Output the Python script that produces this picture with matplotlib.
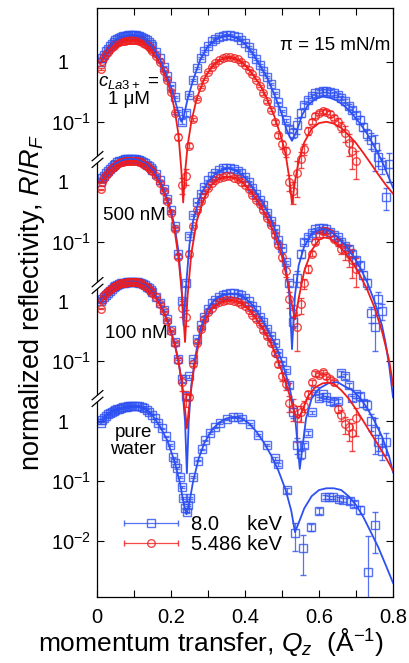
import numpy as np
import matplotlib
matplotlib.use("Agg")
import matplotlib.pyplot as plt
from matplotlib.path import Path
from matplotlib.legend_handler import HandlerErrorbar
from matplotlib.container import ErrorbarContainer
from matplotlib.ticker import FixedLocator, NullLocator

plt.rcParams['font.family'] = ['Liberation Sans', 'DejaVu Sans']
plt.rcParams['mathtext.fontset'] = 'custom'
plt.rcParams['mathtext.rm'] = 'Liberation Sans'
plt.rcParams['mathtext.it'] = 'Liberation Sans:italic'
plt.rcParams['mathtext.bf'] = 'Liberation Sans:bold'

#%% Datos: Q (1/A) y R/RF, 8.0 keV (azul) y 5.486 keV (rojo)
q8 = [0.010, 0.015, 0.020, 0.025, 0.030, 0.035, 0.040, 0.045, 0.050, 0.055,
      0.060, 0.065, 0.070, 0.075, 0.080, 0.085, 0.090, 0.095, 0.100, 0.105,
      0.110, 0.115, 0.120, 0.125, 0.130, 0.135, 0.140, 0.145, 0.150,
      0.16, 0.17, 0.18, 0.19, 0.20,
      0.21, 0.22, 0.23, 0.24, 0.25, 0.26, 0.27, 0.28, 0.29, 0.30,
      0.31, 0.32, 0.33, 0.34, 0.35, 0.36, 0.37, 0.38, 0.39, 0.40,
      0.41, 0.42, 0.43, 0.44, 0.45, 0.46, 0.47, 0.48, 0.49, 0.50,
      0.51, 0.52, 0.53, 0.54, 0.55, 0.56, 0.57, 0.58, 0.59, 0.60,
      0.61, 0.62, 0.63, 0.64, 0.65, 0.66, 0.67, 0.68, 0.69, 0.70,
      0.71, 0.72, 0.73, 0.74, 0.75, 0.76, 0.77, 0.78, 0.79]
q5 = q8[:84]   # los datos a 5.486 keV llegan hasta 0.70

# errores relativos
e8 = ([0.02]*34 + [0.03, 0.04, 0.1, 0.1, 0.05, 0.03, 0.03, 0.03, 0.03, 0.03]
      + [0.02]*10 + [0.03]*10
      + [0.05, 0.1, 0.2, 0.3, 0.15, 0.1, 0.08, 0.06, 0.05, 0.05]
      + [0.05, 0.05, 0.06, 0.06, 0.07, 0.08, 0.08, 0.1, 0.1, 0.12]
      + [0.15, 0.15, 0.2, 0.3, 0.6, 0.3, 0.3, 0.4, 0.5])
e5 = ([0.03]*34 + [0.05, 0.1, 0.3, 0.3, 0.1, 0.05, 0.04, 0.03, 0.03, 0.03]
      + [0.03]*10
      + [0.03, 0.03, 0.04, 0.04, 0.05, 0.05, 0.06, 0.08, 0.1, 0.15]
      + [0.2, 0.3, 0.4, 0.6, 0.3, 0.2, 0.15, 0.1, 0.1, 0.08]
      + [0.08, 0.08, 0.1, 0.1, 0.15, 0.2, 0.3, 0.4, 0.5, 0.5])

# c(La3+) = 1 uM
r8_1uM = [1.0, 1.17, 1.32, 1.5, 1.66, 1.83, 2.0, 2.15, 2.29, 2.4,
          2.51, 2.6, 2.69, 2.72, 2.75, 2.79, 2.82, 2.82, 2.82, 2.79,
          2.75, 2.7, 2.63, 2.52, 2.4, 2.28, 2.14, 1.98, 1.82,
          1.48, 1.15, 0.83, 0.58, 0.4,
          0.26, 0.15, 0.1, 0.14, 0.28, 0.5, 0.79, 1.15, 1.51, 1.86,
          2.19, 2.45, 2.63, 2.75, 2.82, 2.82, 2.69, 2.57, 2.34, 2.09,
          1.78, 1.41, 1.12, 0.89, 0.71, 0.56, 0.43, 0.3, 0.21, 0.15,
          0.105, 0.076, 0.066, 0.089, 0.14, 0.19, 0.23, 0.27, 0.3, 0.32,
          0.33, 0.33, 0.32, 0.3, 0.28, 0.25, 0.22, 0.18, 0.16, 0.13,
          0.107, 0.083, 0.063, 0.05, 0.038, 0.026, 0.019, 0.0056, 0.02]
r5_1uM = [0.76, 1.02, 1.2, 1.35, 1.48, 1.61, 1.74, 1.85, 1.95, 2.05,
          2.14, 2.2, 2.24, 2.27, 2.29, 2.32, 2.34, 2.34, 2.34, 2.32,
          2.29, 2.25, 2.19, 2.1, 2.0, 1.9, 1.78, 1.65, 1.51,
          1.26, 1.0, 0.71, 0.5, 0.32,
          0.14, 0.056, 0.0089, 0.0126, 0.04, 0.11, 0.24, 0.38, 0.52, 0.68,
          0.83, 0.95, 1.07, 1.15, 1.2, 1.2, 1.17, 1.1, 1.0, 0.87,
          0.74, 0.62, 0.5, 0.4, 0.3, 0.22, 0.16, 0.1, 0.06, 0.042,
          0.032, 0.01, 0.007, 0.014, 0.024, 0.035, 0.071, 0.1, 0.126, 0.14,
          0.15, 0.148, 0.135, 0.117, 0.1, 0.083, 0.066, 0.045, 0.032, 0.022]

# 500 nM
r8_500nM = [1.0, 1.13, 1.26, 1.38, 1.51, 1.65, 1.78, 1.9, 2.0, 2.1,
            2.19, 2.24, 2.29, 2.35, 2.4, 2.4, 2.4, 2.4, 2.4, 2.37,
            2.34, 2.3, 2.24, 2.14, 2.04, 1.93, 1.82, 1.7, 1.58,
            1.32, 1.05, 0.76, 0.52, 0.33,
            0.18, 0.063, 0.01, 0.02, 0.126, 0.28, 0.45, 0.63, 0.83, 1.05,
            1.23, 1.41, 1.55, 1.66, 1.7, 1.7, 1.62, 1.51, 1.38, 1.2,
            1.0, 0.79, 0.63, 0.5, 0.4, 0.3, 0.22, 0.16, 0.105, 0.079,
            0.045, 0.02, 0.0045, 0.025, 0.063, 0.1, 0.12, 0.14, 0.16, 0.166,
            0.166, 0.16, 0.145, 0.13, 0.117, 0.1, 0.085, 0.076, 0.063, 0.05,
            0.04, 0.028, 0.02, 0.0063, 0.0037, 0.011, 0.007, np.nan, np.nan]
r5_500nM = [0.74, 0.98, 1.15, 1.28, 1.41, 1.54, 1.66, 1.76, 1.86, 1.95,
            2.04, 2.09, 2.14, 2.19, 2.24, 2.24, 2.24, 2.24, 2.24, 2.22,
            2.19, 2.14, 2.09, 2.0, 1.91, 1.8, 1.7, 1.59, 1.48,
            1.23, 0.95, 0.71, 0.48, 0.3,
            0.16, 0.056, 0.0079, 0.0056, 0.063, 0.18, 0.33, 0.48, 0.63, 0.79,
            0.95, 1.07, 1.15, 1.2, 1.23, 1.23, 1.17, 1.1, 1.0, 0.87,
            0.74, 0.6, 0.5, 0.42, 0.33, 0.25, 0.19, 0.13, 0.089, 0.056,
            0.032, 0.011, 0.0063, 0.0037, 0.0089, 0.02, 0.035, 0.063, 0.1, 0.13,
            0.148, 0.15, 0.14, 0.112, 0.1, 0.076, 0.071, 0.063, 0.05, 0.035]

# 100 nM
r8_100nM = [1.0, 1.1, 1.2, 1.3, 1.41, 1.51, 1.62, 1.72, 1.82, 1.89,
            1.95, 2.0, 2.04, 2.07, 2.09, 2.12, 2.14, 2.14, 2.14, 2.12,
            2.09, 2.05, 2.0, 1.93, 1.86, 1.76, 1.66, 1.55, 1.45,
            1.2, 0.95, 0.72, 0.5, 0.33,
            0.21, 0.11, 0.05, 0.026, 0.056, 0.11, 0.24, 0.4, 0.56, 0.76,
            0.93, 1.07, 1.2, 1.29, 1.35, 1.38, 1.38, 1.35, 1.26, 1.15,
            1.0, 0.85, 0.71, 0.56, 0.45, 0.35, 0.27, 0.2, 0.14, 0.1,
            0.071, 0.04, 0.014, 0.004, 0.0028, 0.004, 0.0063, 0.014, 0.032, 0.024,
            0.028, 0.025, 0.022, 0.021, 0.022, 0.063, 0.056, 0.04, 0.024, 0.028,
            0.026, 0.02, 0.019, 0.01, 0.007, 0.0045, 0.0032, 0.0045, np.nan]
r5_100nM = [0.76, 1.05, 1.26, 1.37, 1.48, 1.57, 1.66, 1.74, 1.82, 1.89,
            1.95, 2.0, 2.04, 2.07, 2.09, 2.12, 2.14, 2.14, 2.14, 2.12,
            2.09, 2.05, 2.0, 1.91, 1.82, 1.72, 1.62, 1.51, 1.41,
            1.17, 0.91, 0.68, 0.48, 0.32,
            0.2, 0.105, 0.045, 0.025, 0.025, 0.089, 0.2, 0.35, 0.5, 0.66,
            0.79, 0.89, 0.98, 1.02, 1.05, 1.05, 1.02, 0.98, 0.91, 0.83,
            0.72, 0.6, 0.5, 0.42, 0.33, 0.26, 0.2, 0.14, 0.089, 0.056,
            0.042, 0.02, 0.0166, 0.0112, 0.014, 0.018, 0.028, 0.045, 0.063, 0.06,
            0.066, 0.056, 0.05, 0.045, 0.016, 0.0126, 0.0089, 0.0079, 0.0063, 0.0112]

# agua pura (solo 8.0 keV)
q_agua = [0.010, 0.015, 0.020, 0.025, 0.030, 0.035, 0.040, 0.045, 0.050, 0.055,
          0.060, 0.065, 0.070, 0.075, 0.080, 0.085, 0.090, 0.095, 0.100, 0.107,
          0.114, 0.121, 0.128, 0.135, 0.142, 0.150, 0.157, 0.166, 0.175, 0.186,
          0.197, 0.206, 0.212, 0.216, 0.224, 0.229, 0.233, 0.238, 0.242, 0.246,
          0.251, 0.260, 0.273, 0.284, 0.292, 0.305, 0.319, 0.332, 0.351, 0.368,
          0.380, 0.391, 0.414, 0.436, 0.459, 0.481, 0.490, 0.514, 0.535, 0.557,
          0.578, 0.600, 0.616, 0.627, 0.638, 0.654, 0.665, 0.684, 0.695, 0.711,
          0.733, 0.751]
r_agua = [0.93, 1.05, 1.15, 1.23, 1.32, 1.38, 1.45, 1.51, 1.55, 1.58,
          1.62, 1.66, 1.7, 1.74, 1.74, 1.78, 1.78, 1.78, 1.78, 1.78,
          1.78, 1.74, 1.66, 1.55, 1.41, 1.29, 1.12, 0.93, 0.76, 0.56,
          0.4, 0.25, 0.2, 0.166, 0.117, 0.079, 0.052, 0.035, 0.03, 0.04,
          0.052, 0.117, 0.22, 0.34, 0.48, 0.63, 0.79, 0.93, 1.07, 1.17,
          1.17, 1.1, 0.91, 0.59, 0.4, 0.24, 0.19, 0.071, 0.0135, 0.0076,
          0.017, 0.032, 0.054, 0.054, 0.054, 0.05, 0.048, 0.047, 0.042, 0.033,
          0.003, 0.0186]
e_agua = ([0.03]*50 + [0.04, 0.04, 0.04, 0.05, 0.05, 0.06, 0.06, 0.1, 0.5, 0.65]
          + [0.15, 0.1, 0.08, 0.06, 0.06, 0.08, 0.08, 0.1, 0.12, 0.15]
          + [3.0, 0.66])

#%% Ajustes (modelo)
fq8_1uM = [0.01, 0.03, 0.05, 0.07, 0.09, 0.11, 0.13, 0.15, 0.17, 0.19,
           0.20, 0.21, 0.22, 0.228, 0.235, 0.245, 0.26, 0.28, 0.30, 0.32,
           0.34, 0.36, 0.38, 0.40, 0.42, 0.44, 0.46, 0.48, 0.50, 0.515,
           0.527, 0.54, 0.555, 0.57, 0.59, 0.61, 0.63, 0.65, 0.67, 0.69,
           0.71, 0.73, 0.75, 0.77, 0.79, 0.80]
fr8_1uM = [1.0, 1.66, 2.29, 2.63, 2.75, 2.69, 2.34, 1.78, 1.12, 0.56,
           0.38, 0.24, 0.141, 0.1, 0.126, 0.24, 0.5, 1.12, 1.82, 2.34,
           2.63, 2.69, 2.45, 2.0, 1.41, 0.89, 0.54, 0.28, 0.132, 0.066,
           0.048, 0.071, 0.132, 0.19, 0.24, 0.263, 0.25, 0.224, 0.18, 0.135,
           0.095, 0.063, 0.038, 0.022, 0.0112, 0.0079]
fq5_1uM = [0.01, 0.03, 0.05, 0.07, 0.09, 0.11, 0.13, 0.15, 0.17, 0.19,
           0.20, 0.21, 0.22, 0.228, 0.233, 0.238, 0.245, 0.255, 0.27, 0.29,
           0.31, 0.33, 0.35, 0.36, 0.38, 0.40, 0.42, 0.44, 0.46, 0.48,
           0.50, 0.51, 0.52, 0.527, 0.535, 0.545, 0.56, 0.58, 0.60, 0.62,
           0.64, 0.66, 0.68, 0.70, 0.72, 0.74, 0.76, 0.78, 0.80]
fr5_1uM = [0.95, 1.51, 1.95, 2.19, 2.29, 2.24, 1.95, 1.48, 0.95, 0.48,
           0.3, 0.158, 0.063, 0.0158, 0.0045, 0.0141, 0.04, 0.1, 0.25, 0.52,
           0.83, 1.07, 1.17, 1.19, 1.1, 0.89, 0.63, 0.42, 0.24, 0.12,
           0.05, 0.028, 0.0112, 0.0043, 0.01, 0.022, 0.045, 0.076, 0.095, 0.1,
           0.093, 0.079, 0.06, 0.044, 0.03, 0.02, 0.0132, 0.0089, 0.0063]

fq8_500nM = [0.01, 0.03, 0.05, 0.07, 0.09, 0.11, 0.13, 0.15, 0.17, 0.19,
             0.20, 0.21, 0.22, 0.228, 0.234, 0.24, 0.25, 0.26, 0.28, 0.30,
             0.32, 0.34, 0.355, 0.37, 0.39, 0.41, 0.43, 0.45, 0.47, 0.49,
             0.50, 0.51, 0.52, 0.527, 0.535, 0.545, 0.56, 0.58, 0.60, 0.615,
             0.63, 0.65, 0.67, 0.69, 0.71, 0.73, 0.75, 0.77, 0.78, 0.79, 0.80]
fr8_500nM = [1.0, 1.51, 2.0, 2.29, 2.4, 2.34, 2.04, 1.58, 1.05, 0.52,
             0.33, 0.178, 0.071, 0.02, 0.004, 0.0158, 0.089, 0.224, 0.6, 1.0,
             1.35, 1.58, 1.66, 1.58, 1.35, 1.0, 0.66, 0.42, 0.24, 0.112,
             0.071, 0.038, 0.0126, 0.0016, 0.0126, 0.04, 0.083, 0.132, 0.158, 0.162,
             0.151, 0.12, 0.089, 0.06, 0.038, 0.021, 0.01, 0.004, 0.002, 0.0008, 0.00025]
fq5_500nM = [0.01, 0.03, 0.05, 0.07, 0.09, 0.11, 0.13, 0.15, 0.17, 0.19,
             0.20, 0.21, 0.22, 0.23, 0.238, 0.245, 0.255, 0.27, 0.29, 0.31,
             0.33, 0.35, 0.36, 0.38, 0.40, 0.42, 0.44, 0.46, 0.48, 0.50,
             0.515, 0.525, 0.535, 0.545, 0.56, 0.58, 0.60, 0.615, 0.63, 0.65,
             0.67, 0.69, 0.71, 0.73, 0.75, 0.77, 0.79, 0.80]
fr5_500nM = [0.95, 1.45, 1.86, 2.14, 2.24, 2.19, 1.91, 1.45, 0.93, 0.47,
             0.295, 0.151, 0.056, 0.0126, 0.0021, 0.0126, 0.063, 0.224, 0.54, 0.89,
             1.12, 1.2, 1.2, 1.1, 0.89, 0.63, 0.42, 0.25, 0.132, 0.056,
             0.022, 0.01, 0.005, 0.0112, 0.032, 0.071, 0.107, 0.117, 0.112, 0.089,
             0.066, 0.045, 0.028, 0.0158, 0.0079, 0.0032, 0.001, 0.0004]

fq8_100nM = [0.01, 0.03, 0.05, 0.07, 0.09, 0.11, 0.13, 0.15, 0.17, 0.19,
             0.21, 0.22, 0.23, 0.238, 0.243, 0.248, 0.255, 0.265, 0.28, 0.30,
             0.32, 0.34, 0.36, 0.38, 0.40, 0.42, 0.44, 0.46, 0.48, 0.50,
             0.52, 0.535, 0.548, 0.556, 0.565, 0.58, 0.60, 0.625, 0.65, 0.67,
             0.69, 0.71, 0.73, 0.75, 0.77, 0.79, 0.80]
fr8_100nM = [1.0, 1.41, 1.82, 2.04, 2.14, 2.09, 1.86, 1.45, 0.95, 0.5,
             0.2, 0.105, 0.04, 0.01, 0.00135, 0.01, 0.04, 0.112, 0.355, 0.76,
             1.1, 1.29, 1.35, 1.32, 1.15, 0.87, 0.575, 0.355, 0.2, 0.1,
             0.038, 0.0126, 0.0016, 0.004, 0.0112, 0.024, 0.035, 0.043, 0.045, 0.038,
             0.033, 0.025, 0.0166, 0.01, 0.0056, 0.0025, 0.0014]
fq5_100nM = [0.01, 0.03, 0.05, 0.07, 0.09, 0.11, 0.13, 0.15, 0.17, 0.19,
             0.21, 0.22, 0.23, 0.238, 0.243, 0.25, 0.26, 0.275, 0.29, 0.31,
             0.33, 0.35, 0.37, 0.39, 0.41, 0.43, 0.45, 0.47, 0.49, 0.51,
             0.525, 0.537, 0.545, 0.555, 0.57, 0.59, 0.61, 0.625, 0.64, 0.66,
             0.68, 0.70, 0.72, 0.74, 0.76, 0.78, 0.80]
fr5_100nM = [0.93, 1.45, 1.82, 2.04, 2.09, 2.04, 1.78, 1.38, 0.89, 0.47,
             0.19, 0.1, 0.042, 0.0158, 0.0076, 0.02, 0.063, 0.2, 0.45, 0.76,
             0.95, 1.05, 1.05, 0.95, 0.76, 0.52, 0.34, 0.2, 0.1, 0.045,
             0.022, 0.012, 0.0112, 0.0151, 0.026, 0.037, 0.043, 0.044, 0.042, 0.033,
             0.024, 0.0158, 0.01, 0.0063, 0.004, 0.0025, 0.0015]

fq_agua = [0.01, 0.03, 0.05, 0.07, 0.09, 0.11, 0.13, 0.15, 0.17, 0.19,
           0.21, 0.225, 0.235, 0.242, 0.25, 0.26, 0.275, 0.29, 0.31, 0.33,
           0.35, 0.37, 0.39, 0.41, 0.43, 0.45, 0.47, 0.49, 0.51, 0.525,
           0.535, 0.545, 0.56, 0.58, 0.60, 0.62, 0.64, 0.66, 0.68, 0.70,
           0.72, 0.74, 0.76, 0.78, 0.80]
fr_agua = [0.95, 1.32, 1.55, 1.7, 1.78, 1.78, 1.62, 1.26, 0.83, 0.48,
           0.21, 0.089, 0.04, 0.028, 0.045, 0.1, 0.24, 0.43, 0.71, 0.95,
           1.12, 1.17, 1.12, 0.93, 0.68, 0.45, 0.275, 0.151, 0.071, 0.032,
           0.0141, 0.02, 0.035, 0.056, 0.071, 0.076, 0.076, 0.071, 0.056, 0.04,
           0.025, 0.0141, 0.0079, 0.004, 0.002]

# desplazamiento vertical de cada curva (factor 100 entre muestras)
desplaz = [1e6, 1e4, 1e2]
datos8 = [r8_1uM, r8_500nM, r8_100nM]
datos5 = [r5_1uM, r5_500nM, r5_100nM]
ajuste8 = [(fq8_1uM, fr8_1uM), (fq8_500nM, fr8_500nM), (fq8_100nM, fr8_100nM)]
ajuste5 = [(fq5_1uM, fr5_1uM), (fq5_500nM, fr5_500nM), (fq5_100nM, fr5_100nM)]

ytick_pos = [1e-2, 1e-1, 1, 1e1, 1e2, 1e3, 1e4, 1e5, 1e6]
uno = '1\u2007\u2007'
ytick_lab = ['10$^{-2}$', '10$^{-1}$', uno, '10$^{-1}$', uno, '10$^{-1}$', uno, '10$^{-1}$', uno]
xtick_pos = [0, 0.1, 0.2, 0.3, 0.4, 0.5, 0.6, 0.7, 0.8]
xtick_lab = ['0', '', '0.2', '', '0.4', '', '0.6', '', '0.8']
cortes_y = [10**4.37, 10**2.28, 10**0.38]
etiquetas = ['8.0     keV', '5.486 keV']

c8 = '#2d50f2'
c5 = '#f01c1c'

#%% Figura
fig = plt.figure(figsize=(4.09, 6.63), dpi=100)
fig.subplots_adjust(left=0.237, right=0.961, bottom=0.0995, top=0.988)
ax = fig.add_subplot(111)
ax.set_yscale('log')

estilo = dict(ms=5.5, mfc='none', mew=1.0, elinewidth=0.9, capsize=2.0, capthick=0.9)


def puntos(q, r, e, k, color, marker):
    r = np.asarray(r, float)*k
    e = np.asarray(e, float)
    err = [r*np.minimum(e, 0.99), r*e]
    ax.errorbar(q, r, yerr=err, fmt=marker, color=color, alpha=0.8, zorder=2, **estilo)


for k, r8, r5, (fq8, fr8), (fq5, fr5) in zip(desplaz, datos8, datos5, ajuste8, ajuste5):
    puntos(q8, r8, e8, k, c8, 's')
    puntos(q5, r5, e5, k, c5, 'o')
    ax.plot(fq8, np.asarray(fr8)*k, color=c8, lw=1.3, zorder=3)
    ax.plot(fq5, np.asarray(fr5)*k, color=c5, lw=1.3, zorder=3)

puntos(q_agua, r_agua, e_agua, 1.0, c8, 's')
ax.plot(fq_agua, fr_agua, color=c8, lw=1.3, zorder=3)

# entradas de leyenda: barra de error horizontal con el simbolo al centro
leg8 = ax.errorbar([np.nan], [np.nan], xerr=[0], fmt='s', color=c8, alpha=0.8, **estilo)
leg5 = ax.errorbar([np.nan], [np.nan], xerr=[0], fmt='o', color=c5, alpha=0.8, **estilo)

# ejes
ax.set_xlim(0, 0.8)
ax.set_ylim(10**-2.935, 10**6.9)
ax.xaxis.set_major_locator(FixedLocator(xtick_pos))
ax.set_xticklabels(xtick_lab)
ax.yaxis.set_major_locator(FixedLocator(ytick_pos))
ax.yaxis.set_minor_locator(NullLocator())
ax.set_yticklabels(ytick_lab)
ax.tick_params(direction='in', top=True, right=True, length=5, width=0.8, labelsize=14.5)
ax.tick_params(axis='x', pad=8)
ax.tick_params(axis='y', pad=4)
for s in ax.spines.values():
    s.set_linewidth(0.9)

ax.set_xlabel(r'momentum transfer, $Q_z$  (Å$^{-1}$)', fontsize=19)
ax.set_ylabel(r'normalized reflectivity, $R$/$R_F$', fontsize=19.5)
ax.xaxis.set_label_coords(0.385, -0.05)
ax.yaxis.set_label_coords(-0.17, 0.5)

# marcas de corte del eje
gap = Path([(-0.7, -1.0), (0.7, 0.2), (0.7, 1.0), (-0.7, -0.2), (-0.7, -1.0)])
barras = Path([(-0.7, -1.0), (0.7, 0.2), (-0.7, -0.2), (0.7, 1.0)],
              [Path.MOVETO, Path.LINETO, Path.MOVETO, Path.LINETO])
ax.plot(np.zeros(len(cortes_y)), cortes_y, ls='none', marker=gap, ms=12, mfc='white', mec='none',
        transform=ax.get_yaxis_transform(), clip_on=False, zorder=6)
ax.plot(np.zeros(len(cortes_y)), cortes_y, ls='none', marker=barras, ms=12, mfc='none', mec='k', mew=0.9,
        transform=ax.get_yaxis_transform(), clip_on=False, zorder=7)

# textos
ax.text(0.804, 0.937, 'π = 15 mN/m', transform=ax.transAxes, ha='center', va='center', fontsize=13.5)
ax.text(0.105, 0.874, r'$c_{\mathit{La3+}}$ =', transform=ax.transAxes, ha='center', va='center', fontsize=13.5)
ax.text(0.108, 0.844, '1 μM', transform=ax.transAxes, ha='center', va='center', fontsize=13.5)
ax.text(0.128, 0.647, '500 nM', transform=ax.transAxes, ha='center', va='center', fontsize=13.5)
ax.text(0.132, 0.447, '100 nM', transform=ax.transAxes, ha='center', va='center', fontsize=13.5)
ax.text(0.122, 0.265, 'pure\nwater', transform=ax.transAxes, ha='center', va='center', fontsize=13.5,
        linespacing=1.0)

ax.legend([leg8, leg5], etiquetas, handler_map={ErrorbarContainer: HandlerErrorbar(xerr_size=1.35)},
          loc='lower left', bbox_to_anchor=(0.06, 0.06), borderaxespad=0, frameon=False,
          fontsize=14.5, handlelength=2.8, handletextpad=0.6, labelspacing=0.05, numpoints=1)

fig.savefig('out.png', dpi=100)
